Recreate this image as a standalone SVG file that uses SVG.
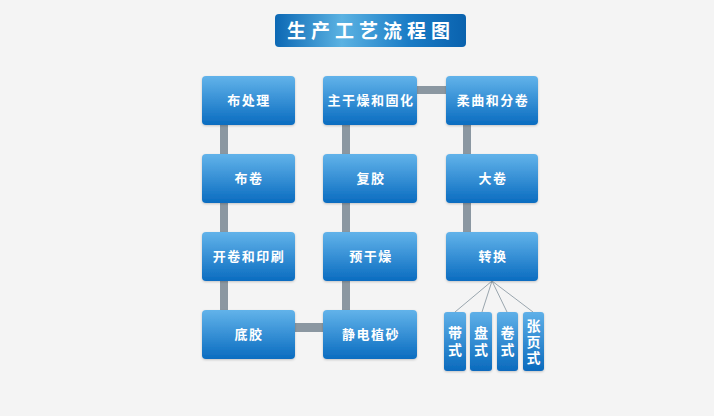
<svg xmlns="http://www.w3.org/2000/svg" width="714" height="416" viewBox="0 0 714 416">
<defs>
<linearGradient id="gBox" x1="0" y1="0" x2="0" y2="1">
<stop offset="0" stop-color="#62b3ea"/>
<stop offset="1" stop-color="#0a6cc0"/>
</linearGradient>
<linearGradient id="gSmall" x1="0" y1="0" x2="0" y2="1">
<stop offset="0" stop-color="#5fb0e8"/>
<stop offset="1" stop-color="#0a6abd"/>
</linearGradient>
<linearGradient id="gTitle" x1="0" y1="0" x2="1" y2="0">
<stop offset="0" stop-color="#0c68b4"/>
<stop offset="0.35" stop-color="#5bb2e2"/>
<stop offset="0.7" stop-color="#1a7cc6"/>
<stop offset="1" stop-color="#0a62ae"/>
</linearGradient>
<filter id="sh" x="-10%" y="-10%" width="120%" height="130%">
<feDropShadow dx="0" dy="1" stdDeviation="1" flood-color="#000" flood-opacity="0.2"/>
</filter>
</defs>
<style>
.box{fill:url(#gBox);filter:url(#sh);}
.sbox{fill:url(#gSmall);filter:url(#sh);}
.t{font-family:"Noto Sans CJK SC","Noto Sans",sans-serif;font-weight:bold;font-size:13px;fill:#fff;text-anchor:middle;letter-spacing:1.5px;}
.st{font-family:"Noto Sans CJK SC","Noto Sans",sans-serif;font-weight:bold;font-size:14px;fill:#fff;text-anchor:middle;writing-mode:vertical-rl;}
.bar{fill:#8b97a1;}
.fan{stroke:#9aa6ae;stroke-width:1;fill:none;}
</style>
<rect width="714" height="416" fill="#f4f4f4"/>
<g id="title">
<rect x="275" y="14" width="191" height="33" rx="4" fill="url(#gTitle)"/>
<text x="371" y="38" font-family="'Noto Sans CJK SC','Noto Sans',sans-serif" font-weight="bold" font-size="19" fill="#fff" text-anchor="middle" letter-spacing="5">生产工艺流程图</text>
</g>
<g id="connectors">
<rect class="bar" x="220" y="124" width="8" height="31"/>
<rect class="bar" x="220" y="202" width="8" height="31"/>
<rect class="bar" x="220" y="280" width="8" height="31"/>
<rect class="bar" x="294" y="323" width="30" height="9"/>
<rect class="bar" x="342" y="280" width="8" height="31"/>
<rect class="bar" x="342" y="202" width="8" height="31"/>
<rect class="bar" x="342" y="124" width="8" height="31"/>
<rect class="bar" x="416" y="86" width="31" height="8"/>
<rect class="bar" x="463" y="124" width="8" height="31"/>
<rect class="bar" x="463" y="202" width="8" height="31"/>
<path class="fan" d="M492 281 L455 312 M492 281 L482 312 M492 281 L507 312 M492 281 L533 312"/>
</g>
<g id="n1"><rect class="box" x="202" y="76" width="93" height="49" rx="4"/><text class="t" x="249" y="105">布处理</text></g>
<g id="n2"><rect class="box" x="202" y="154" width="93" height="49" rx="4"/><text class="t" x="249" y="183">布卷</text></g>
<g id="n3"><rect class="box" x="202" y="232" width="93" height="49" rx="4"/><text class="t" x="249" y="261">开卷和印刷</text></g>
<g id="n4"><rect class="box" x="202" y="310" width="93" height="49" rx="4"/><text class="t" x="249" y="339">底胶</text></g>
<g id="n5"><rect class="box" x="323" y="310" width="94" height="49" rx="4"/><text class="t" x="371" y="339">静电植砂</text></g>
<g id="n6"><rect class="box" x="323" y="232" width="94" height="49" rx="4"/><text class="t" x="371" y="261">预干燥</text></g>
<g id="n7"><rect class="box" x="323" y="154" width="94" height="49" rx="4"/><text class="t" x="371" y="183">复胶</text></g>
<g id="n8"><rect class="box" x="323" y="76" width="94" height="49" rx="4"/><text class="t" x="371" y="105">主干燥和固化</text></g>
<g id="n9"><rect class="box" x="446" y="76" width="92" height="49" rx="4"/><text class="t" x="493" y="105">柔曲和分卷</text></g>
<g id="n10"><rect class="box" x="446" y="154" width="92" height="49" rx="4"/><text class="t" x="493" y="183">大卷</text></g>
<g id="n11"><rect class="box" x="446" y="232" width="92" height="49" rx="4"/><text class="t" x="493" y="261">转换</text></g>
<g id="s1"><rect class="sbox" x="444" y="312" width="22" height="59" rx="3"/><text class="st" x="455" y="343" letter-spacing="3">带式</text></g>
<g id="s2"><rect class="sbox" x="470" y="312" width="22" height="59" rx="3"/><text class="st" x="481" y="343" letter-spacing="3">盘式</text></g>
<g id="s3"><rect class="sbox" x="497" y="312" width="21" height="59" rx="3"/><text class="st" x="507.5" y="343" letter-spacing="3">卷式</text></g>
<g id="s4"><rect class="sbox" x="523" y="312" width="21" height="59" rx="3"/><text class="st" x="533.5" y="342.5" letter-spacing="2">张页式</text></g>
</svg>
